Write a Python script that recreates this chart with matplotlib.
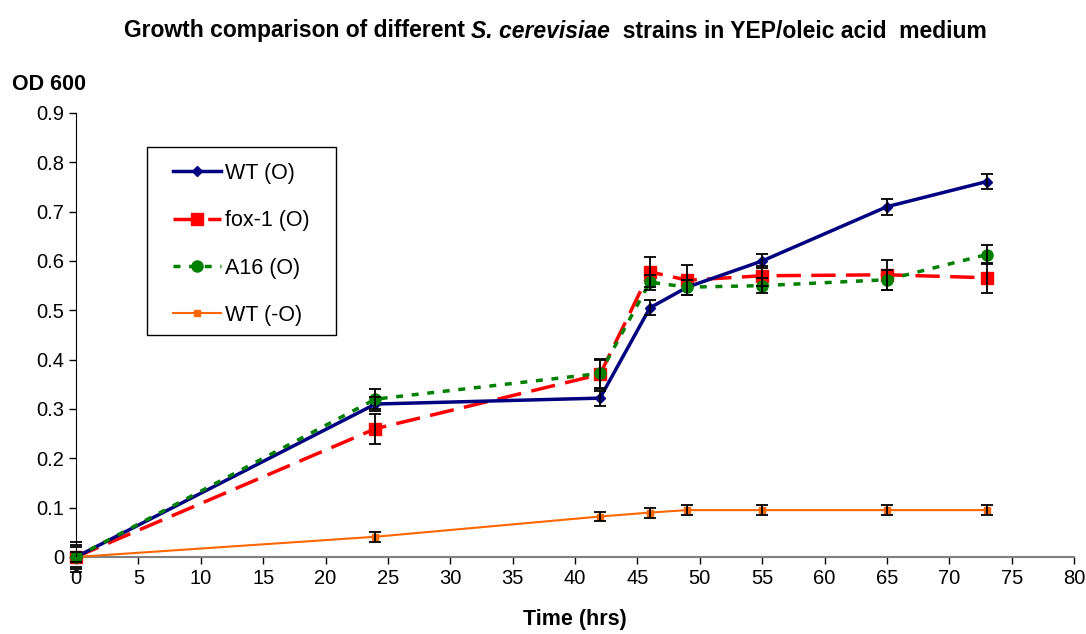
import matplotlib.pyplot as plt
from matplotlib.patches import Rectangle
import numpy as np

plt.rcParams['font.family'] = ['Liberation Sans', 'DejaVu Sans']

time = [0, 24, 42, 46, 49, 55, 65, 73]

wt_o = [0, 0.31, 0.322, 0.505, 0.547, 0.600, 0.710, 0.761]
wt_o_err = [0.025, 0.015, 0.015, 0.015, 0.015, 0.015, 0.016, 0.015]

fox1_o = [0, 0.26, 0.37, 0.578, 0.561, 0.570, 0.572, 0.566]
fox1_o_err = [0.02, 0.03, 0.03, 0.03, 0.03, 0.02, 0.03, 0.03]

a16_o = [0, 0.32, 0.372, 0.557, 0.547, 0.550, 0.562, 0.613]
a16_o_err = [0.03, 0.02, 0.03, 0.015, 0.015, 0.015, 0.02, 0.02]

wt_no = [0, 0.041, 0.082, 0.09, 0.095, 0.095, 0.095, 0.095]
wt_no_err = [0.01, 0.01, 0.01, 0.01, 0.01, 0.01, 0.01, 0.01]

W, H = 1086, 634
fig = plt.figure(figsize=(W / 100, H / 100), dpi=100)
ax = fig.add_axes([0.07, 0.1215, 0.919, 0.7003])

ax.plot(time, wt_o, color='#000080', lw=2.5, marker='D', ms=5.5, label='WT (O)', zorder=4)
ax.plot(time, fox1_o, color='#ff0000', lw=2.5, marker='s', ms=8, dashes=(7, 3),
        label='fox-1 (O)', zorder=3)
ax.plot(time, a16_o, color='#008000', lw=2.5, marker='o', ms=8, dashes=(2, 2.5),
        label='A16 (O)', zorder=5)
ax.plot(time, wt_no, color='#ff6600', lw=1.5, marker='s', ms=4, label='WT (-O)', zorder=4)

for y, e in [(wt_o, wt_o_err), (fox1_o, fox1_o_err), (a16_o, a16_o_err), (wt_no, wt_no_err)]:
    ax.errorbar(time, y, yerr=e, fmt='none', ecolor='black', elinewidth=1.3,
                capsize=4, capthick=1.3, zorder=6)

ax.set_xlim(0, 80)
ax.set_ylim(0, 0.9)
ax.set_xticks(np.arange(0, 81, 5))
ax.set_yticks(np.arange(0, 0.91, 0.1))
ax.set_yticklabels(['0'] + ['%.1f' % v for v in np.arange(0.1, 0.91, 0.1)])
ax.tick_params(labelsize=14.5, direction='out', length=5, width=1)
ax.spines['top'].set_visible(False)
ax.spines['right'].set_visible(False)
ax.spines['bottom'].set_color('#808080')
ax.spines['bottom'].set_linewidth(1.5)
ax.spines['left'].set_color('black')
for l in ax.lines:
    l.set_clip_on(False)

ax.set_xlabel('Time (hrs)', fontsize=15.5, fontweight='bold', labelpad=15)
fig.text(12 / W, 1 - 85 / H, 'OD 600', fontsize=15.5, fontweight='bold', va='center')

# legend without its own frame, box drawn separately
leg = ax.legend(loc='upper left', bbox_to_anchor=(173 / W, 1 - 163 / H),
                bbox_transform=fig.transFigure, fontsize=15.5, frameon=False,
                labelspacing=1.22, handlelength=2.25, borderpad=0,
                handletextpad=0.15, borderaxespad=0)
fig.patches.append(Rectangle((147 / W, 1 - 335 / H), 189 / W, 188 / H,
                             transform=fig.transFigure, fill=False,
                             edgecolor='black', lw=1.0))

# title with italic species name
fig.canvas.draw()
r = fig.canvas.get_renderer()
parts = [('Growth comparison of different ', 'normal'),
         ('S. cerevisiae', 'italic'),
         ('  strains in YEP/oleic acid  medium', 'normal')]
texts = []
for s, st in parts:
    t = fig.text(0, 1 - 31 / H, s, fontsize=16.5, fontweight='bold', style=st, va='center')
    texts.append(t)
widths = [t.get_window_extent(r).width for t in texts]
x = 555 - sum(widths) / 2
for t, w in zip(texts, widths):
    t.set_x(x / W)
    x += w

fig.savefig('out.png', dpi=100)
